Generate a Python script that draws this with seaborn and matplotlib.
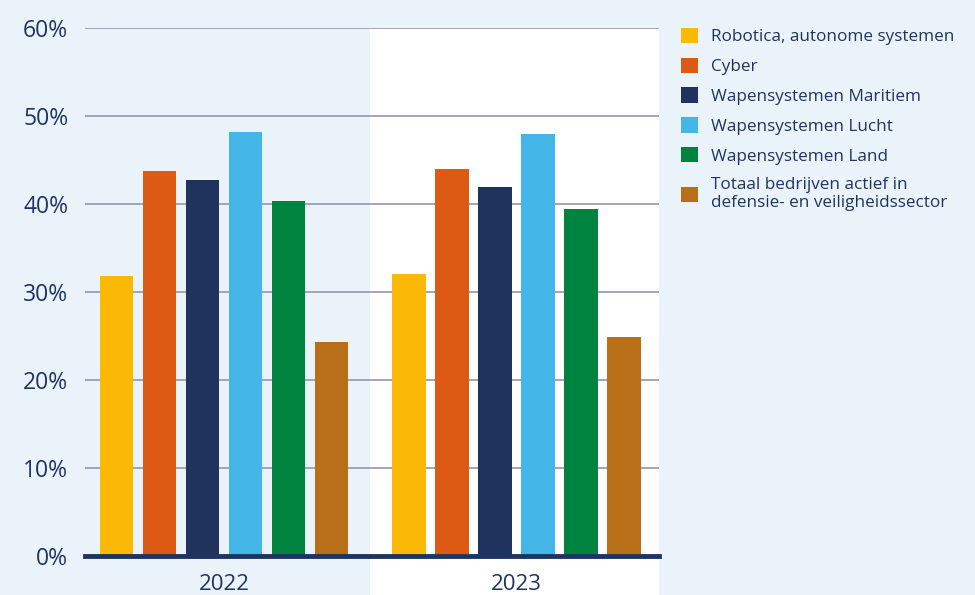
import pandas as pd
import seaborn as sns
import matplotlib.pyplot as plt
from matplotlib.ticker import FuncFormatter

years = ['2022', '2023']
sectors = [
    'Robotica, autonome systemen',
    'Cyber',
    'Wapensystemen Maritiem',
    'Wapensystemen Lucht',
    'Wapensystemen Land',
    'Totaal bedrijven actief in\ndefensie- en veiligheidssector',
]
share_2022 = [31.8, 43.7, 42.7, 48.2, 40.3, 24.3]
share_2023 = [32.0, 44.0, 41.9, 48.0, 39.4, 24.9]

colors = ['#FBB905', '#DC5A14', '#1F335C', '#43B5E6', '#00833E', '#B96F18']
navy = '#1F3560'
bg = '#EAF2FA'

df = pd.DataFrame({
    'year': [y for y in years for _ in sectors],
    'sector': sectors * 2,
    'share': share_2022 + share_2023,
})

sns.set_theme(style='white')
plt.rcParams['font.family'] = ['Open Sans', 'DejaVu Sans']

fig = plt.figure(figsize=(9.75, 5.95), dpi=100, facecolor=bg)
ax = fig.add_axes([0.0872, 0.0655, 0.5887, 0.8875])
ax.set_facecolor(bg)

sns.barplot(
    data=df, x='year', y='share', hue='sector',
    palette=colors, width=0.882, gap=0.23, ax=ax,
    saturation=1, zorder=3, linewidth=0,
)

xmax = 1.487
ax.set_xlim(-0.475, xmax)
ax.set_ylim(0, 60)
ax.set_yticks(range(0, 61, 10))
ax.yaxis.set_major_formatter(FuncFormatter(lambda v, _: f'{v:.0f}%'))

# white band behind second year, reaching below the axis
ax.axvspan(0.5, xmax, ymin=-0.1, ymax=1, color='white', lw=0,
           zorder=0.1, clip_on=False)

ax.grid(visible=True, axis='y', color='#9A9DB8', linewidth=1.3)
ax.grid(visible=False, axis='x')
for s in ['top', 'right', 'left']:
    ax.spines[s].set_visible(False)
ax.spines['bottom'].set_color(navy)
ax.spines['bottom'].set_linewidth(3.5)
ax.spines['bottom'].set_zorder(5)

ax.tick_params(axis='y', length=0, pad=12, labelsize=16.5, labelcolor=navy)
ax.tick_params(axis='x', length=0, pad=13, labelsize=16, labelcolor=navy)
ax.set_xlabel('')
ax.set_ylabel('')

handles, labels = ax.get_legend_handles_labels()
ax.legend().remove()
fig.legend(
    handles, labels, loc='upper left', bbox_to_anchor=(0.683, 0.979),
    frameon=False, fontsize=12.3, labelcolor=navy,
    handlelength=1.0, handleheight=1.0, handletextpad=0.75,
    labelspacing=0.72,
)

plt.savefig('out.png', dpi=100, facecolor=bg)
plt.close()
